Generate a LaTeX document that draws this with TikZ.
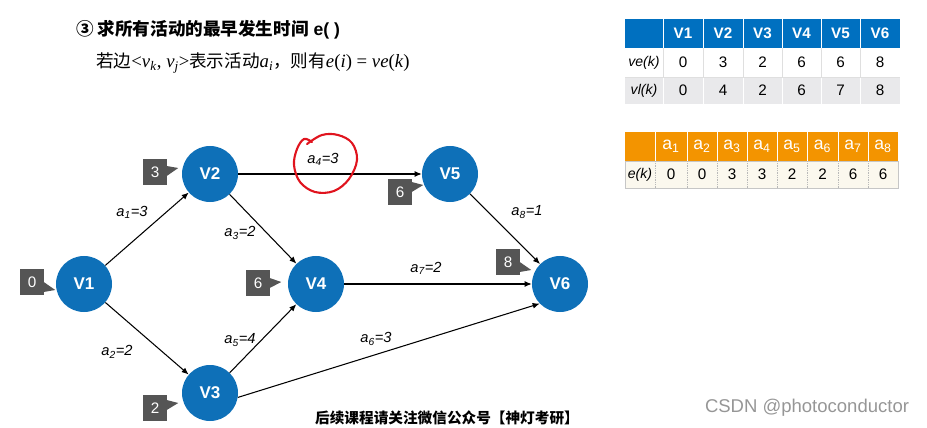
\documentclass[tikz,border=0pt]{standalone}
\usepackage{fontspec}
\setmainfont{Liberation Sans}
\newfontfamily\cjk{Noto Sans CJK SC}
\newfontfamily\serif{Liberation Serif}
\usetikzlibrary{arrows.meta,calc}
\definecolor{nblue}{RGB}{14,112,184}
\definecolor{bgray}{RGB}{85,85,85}
\definecolor{tblue}{RGB}{0,112,192}
\definecolor{trow}{RGB}{233,233,235}
\definecolor{torange}{RGB}{243,148,0}
\definecolor{tbeige}{RGB}{251,248,238}
\definecolor{redpen}{RGB}{224,20,30}
\definecolor{wmark}{RGB}{150,150,150}
\newcommand{\fs}[1]{\fontsize{#1}{#1}\selectfont}
\newcommand{\bptr}[3]{\fill[bgray] ($(#1.east)+(-0.5,#2-5)$) -- ($(#1.east)+(11,#3)$) -- ($(#1.east)+(-0.5,#2+5)$) -- cycle;}
\begin{document}
\begin{tikzpicture}[x=0.03cm,y=-0.03cm,
  vert/.style={circle,fill=nblue,minimum size=1.68cm,inner sep=0pt,text=white,font=\fs{14.5}\bfseries},
  badge/.style={rectangle,fill=bgray,minimum width=0.72cm,minimum height=0.8cm,inner sep=0pt,text=white,font=\fs{13}},
  arr/.style={-{Latex[length=6pt,width=5pt]},line width=0.9pt},
  elab/.style={font=\fs{12.5}\itshape,inner sep=1pt},
  thead/.style={text=white,font=\fs{13}\bfseries,inner sep=0pt},
  tcell/.style={font=\fs{13},inner sep=0pt},
  tlab/.style={font=\fs{12}\itshape,inner sep=0pt},
  ahead/.style={text=white,font=\fs{15},inner sep=0pt}]
\useasboundingbox (0,0) rectangle (927,428);

% title
\node[anchor=west,inner sep=0pt] (title) at (76,30) {\fs{15}\bfseries{\cjk ③ 求所有活动的最早发生时间} e( )};
\node[anchor=west,inner sep=0pt] (rule) at (96,63) {\fs{15}{\cjk 若边}{\fs{16}\serif <\textit{v}\textsubscript{\textit{k}}, \textit{v}\textsubscript{\textit{j}}>}{\cjk 表示活动}{\fs{16}\serif\textit{a}\textsubscript{\textit{i}}}{\cjk ，则有}{\fs{16}\serif\textit{e}(\textit{i}) = \textit{ve}(\textit{k})}};

% vertices
\node[vert] (V1) at (84,284) {V1};
\node[vert] (V2) at (210,174) {V2};
\node[vert] (V3) at (210,393) {V3};
\node[vert] (V4) at (316,284) {V4};
\node[vert] (V5) at (450,174) {V5};
\node[vert] (V6) at (560,284) {V6};

% edges
\draw[arr] (V1) -- (V2);
\draw[arr] (V1) -- (V3);
\draw[arr] (V2) -- (V4);
\draw[arr] (V2) -- (V5);
\draw[arr] (V3) -- (V4);
\draw[arr] (V3.-9) -- (V6.224);
\draw[arr] (V4) -- (V6);
\draw[arr] (V5) -- (V6);

% edge labels
\node[elab] (l1) at (132,212) {a\textsubscript{1}=3};
\node[elab] (l2) at (117,352) {a\textsubscript{2}=2};
\node[elab] (l3) at (240,233) {a\textsubscript{3}=2};
\node[elab] (l4) at (323,159) {a\textsubscript{4}=3};
\node[elab] (l5) at (240,340) {a\textsubscript{5}=4};
\node[elab] (l6) at (376,339) {a\textsubscript{6}=3};
\node[elab] (l7) at (426,268) {a\textsubscript{7}=2};
\node[elab] (l8) at (527,212) {a\textsubscript{8}=1};

% red hand-drawn circle
\draw[redpen,line width=1.8pt,line cap=round,line join=round] plot[smooth,tension=0.6] coordinates {(312,142) (304,139) (297,149) (294,165) (300,182) (315,192) (334,191) (349,179) (357,160) (352,143) (338,135) (322,135) (307,144)};

% badges
\node[badge] (b1) at (32,282) {0};
\bptr{b1}{5}{8}
\node[badge] (b2) at (155,172) {3};
\bptr{b2}{-1}{-4}
\node[badge] (b3) at (155,408) {2};
\bptr{b3}{-3}{-5}
\node[badge] (b4) at (258,283) {6};
\bptr{b4}{0}{-1}
\node[badge] (b5) at (400,192) {6};
\bptr{b5}{-5}{-7}
\node[badge] (b6) at (508,262) {8};
\bptr{b6}{5}{8}

% table 1
\fill[tblue] (625,19) rectangle (900,48);
\fill[white] (625,48) rectangle (900,77);
\fill[trow] (625,77) rectangle (900,104);
\foreach \xx in {663,703,743,782,821,860} {
  \draw[white,line width=0.8pt] (\xx,19) -- (\xx,48);
  \draw[gray!25,line width=0.5pt] (\xx,48) -- (\xx,77);
  \draw[white,line width=0.8pt] (\xx,77) -- (\xx,104);
}
\draw[gray!25,line width=0.5pt] (625,77) -- (900,77);
\foreach \cx/\v/\a/\b [count=\i] in {683/V1/0/0,723/V2/3/4,762.5/V3/2/2,801.5/V4/6/6,840.5/V5/6/7,880/V6/8/8} {
  \node[thead] (h\i) at (\cx,33.5) {\v};
  \node[tcell] (ve\i) at (\cx,62.5) {\a};
  \node[tcell] (vl\i) at (\cx,90.5) {\b};
}
\node[tlab] (velab) at (644,62.5) {ve(k)};
\node[tlab] (vllab) at (644,90.5) {vl(k)};

% table 2
\fill[torange] (625,132) rectangle (898,161);
\fill[tbeige] (625,161) rectangle (898,188);
\draw[gray!45,line width=0.5pt] (625,161) rectangle (898,188);
\foreach \xx in {655,687,717,747,777,807,838,868} {
  \draw[white,line width=0.8pt] (\xx,132) -- (\xx,161);
  \draw[gray!55,line width=0.5pt,densely dotted] (\xx,161) -- (\xx,188);
}
\foreach \cx/\e [count=\i] in {671/0,702/0,732/3,762/3,792/2,822.5/2,853/6,883/6} {
  \node[ahead] (ah\i) at (\cx,146.5) {a\textsubscript{\i}};
  \node[tcell] (ek\i) at (\cx,174.5) {\e};
}
\node[tlab] (eklab) at (640,174.5) {e(k)};

% footer and watermark
\node[inner sep=0pt] (foot) at (447,418) {\fs{12.5}\bfseries\cjk 后续课程请关注微信公众号【神灯考研】};
\node[inner sep=0pt,text=wmark] (wm) at (807,408) {\fs{15.8}CSDN @photoconductor};
\end{tikzpicture}
\end{document}
